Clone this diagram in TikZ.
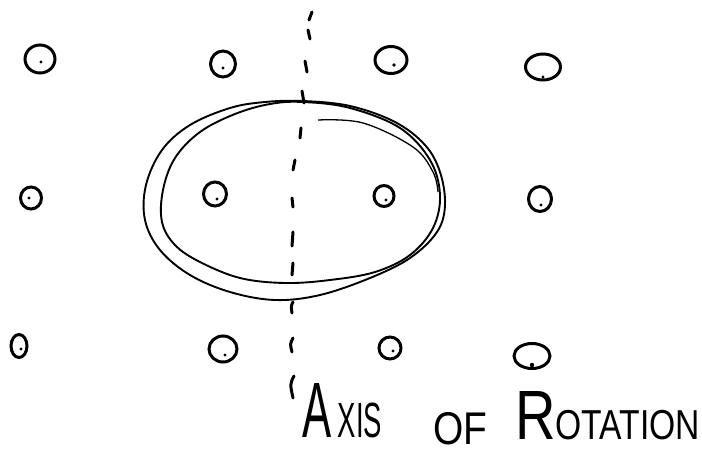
\documentclass[tikz,border=0pt]{standalone}
\usepackage{fontspec}
\setmainfont{Liberation Sans}
\usetikzlibrary{shapes.geometric}
\tikzset{
  site/.style={draw, ellipse, line width=3pt, inner sep=0pt},
  seed/.style={fill=black},
  ring/.style={line width=1.9pt, line join=round},
  axisdash/.style={line width=3pt, line cap=round},
  lbl/.style={anchor=base west, inner sep=0pt}
}
\begin{document}
\begin{tikzpicture}[x=1pt, y=-1pt]
\useasboundingbox (0,0) rectangle (702,455);
% lattice sites
\node[site, minimum width=30, minimum height=28] (s11) at (40,59) {};
\node[site, minimum width=25, minimum height=26] (s12) at (223,64) {};
\node[site, minimum width=32, minimum height=27] (s13) at (391,60) {};
\node[site, minimum width=35, minimum height=26] (s14) at (543,67) {};
\node[site, minimum width=21, minimum height=22] (s21) at (31,198) {};
\node[site, minimum width=23, minimum height=24] (s22) at (215,194) {};
\node[site, minimum width=20, minimum height=21] (s23) at (384,196) {};
\node[site, minimum width=23, minimum height=25] (s24) at (540,199) {};
\node[site, minimum width=16, minimum height=23] (s31) at (19,346) {};
\node[site, minimum width=28, minimum height=26] (s32) at (223,349) {};
\node[site, minimum width=22, minimum height=22] (s33) at (390,348) {};
\node[site, minimum width=36, minimum height=25] (s34) at (532,356) {};
% dots
\fill[seed] (41,62) circle (1.7);
\fill[seed] (223,68) circle (1.7);
\fill[seed] (394,65) circle (1.8);
\fill[seed] (543,77) circle (1.7);
\fill[seed] (29,198) circle (1.6);
\fill[seed] (217,199) circle (1.7);
\fill[seed] (386,200) circle (1.6);
\fill[seed] (541,205) circle (1.6);
\fill[seed] (21,349) circle (1.6);
\fill[seed] (225,355) circle (1.7);
\fill[seed] (393,351) circle (1.6);
\fill[seed] (532,365) circle (2.2);
% rotated unit cell outlines
\draw[ring] plot[smooth cycle, tension=0.6] coordinates {
  (303,101) (350,106) (395,122) (425,145) (440,172) (445,205) (437,232)
  (410,258) (370,278) (320,295) (275,300) (230,292) (190,275) (160,250)
  (145,220) (146,185) (162,150) (190,125) (230,108) (265,102)};
\draw[ring] plot[smooth cycle, tension=0.6] coordinates {
  (303,102) (350,108) (400,128) (430,160) (440,195) (433,228) (410,255)
  (375,272) (330,280) (285,283) (240,278) (200,262) (175,245) (162,222)
  (163,190) (175,158) (200,132) (235,114) (270,104)};
\draw[ring, line width=1.3pt] plot[smooth, tension=0.6] coordinates {
  (318,120) (363,123) (413,147) (433,172) (438,192)};
% axis of rotation (dashed)
\draw[axisdash] (312,12) -- (309,20);
\draw[axisdash] (308,30) -- (310,39);
\draw[axisdash] (305,61) -- (307,72);
\draw[axisdash] (302,91) -- (304,103);
\draw[axisdash] (301,128) -- (300,138);
\draw[axisdash] (295,160) -- (293,170);
\draw[axisdash] (292,198) -- (293,207);
\draw[axisdash] (293,232) -- (292,246);
\draw[axisdash] (293,263) -- (292,275);
\draw[axisdash] (293,302) .. controls (291,306) .. (292,313);
\draw[axisdash] (293,338) .. controls (290,344) .. (292,352);
\draw[axisdash] (294,376) .. controls (290,384) .. (293,398);
% label
\node[lbl] (axis) at (302,437) {\resizebox{80pt}{54pt}{\fontsize{20}{24}\selectfont A\hspace{3pt}\fontsize{12.6}{14}\selectfont XIS}};
\node[lbl] (of) at (433,444) {\resizebox{54pt}{32pt}{OF}};
\node[lbl] (rot) at (515,439) {\resizebox{185pt}{48pt}{\fontsize{20}{24}\selectfont R\fontsize{12}{14}\selectfont OTATION}};
\end{tikzpicture}
\end{document}
